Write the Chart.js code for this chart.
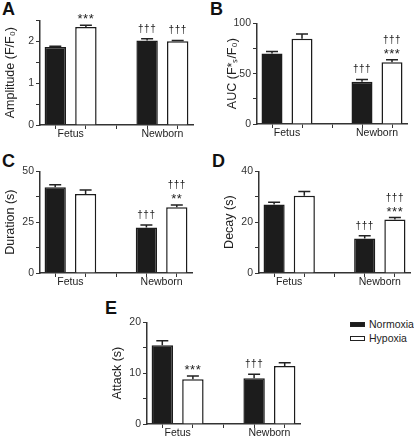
<!DOCTYPE html>
<html>
<head>
<meta charset="utf-8">
<script src="https://cdn.jsdelivr.net/npm/chart.js@4.4.0/dist/chart.umd.min.js"></script>
<style>
  body { margin: 0; background: #fff; }
  #wrap { position: relative; width: 414px; height: 440px; overflow: hidden;
          font-family: "Liberation Sans", Arial, sans-serif; color: #222; }
  canvas { position: absolute; }
  .letter { position: absolute; font-weight: bold; font-size: 18px; line-height: 18px; color: #111; }
  #legend { position: absolute; left: 350px; top: 317px; font-size: 10.5px; line-height: 14px; }
  #legend .item { display: flex; align-items: center; height: 14px; }
  #legend .swatch { display: inline-block; width: 13px; height: 3px; border: 1.5px solid #222; margin-right: 4px; }
</style>
</head>
<body>
<div id="wrap">
  <div class="letter" style="left:2px;top:0px">A</div>
  <div class="letter" style="left:210px;top:0px">B</div>
  <div class="letter" style="left:2px;top:152px">C</div>
  <div class="letter" style="left:212px;top:152px">D</div>
  <div class="letter" style="left:105px;top:299px">E</div>
  <canvas id="chartA"></canvas>
  <canvas id="chartB"></canvas>
  <canvas id="chartC"></canvas>
  <canvas id="chartD"></canvas>
  <canvas id="chartE"></canvas>
  <div id="legend"></div>
</div>
<script>
const groups = ["Fetus", "Newborn"];
const conditions = ["Normoxia", "Hypoxia"];
const conditionColors = ["#1c1c1c", "#ffffff"];

// A: amplitude (F/F0)
const amplitudeNormoxia = [1.86, 2.02];
const amplitudeHypoxia = [2.34, 2.0];
const amplitudeNormoxiaSem = [0.02, 0.04];
const amplitudeHypoxiaSem = [0.04, 0.02];
const amplitudeNormoxiaMarks = [[], ["†††"]];
const amplitudeHypoxiaMarks = [["***"], ["†††"]];

// B: area under curve
const aucNormoxia = [70, 42];
const aucHypoxia = [84.7, 61.3];
const aucNormoxiaSem = [2, 2.3];
const aucHypoxiaSem = [4.6, 2.4];
const aucNormoxiaMarks = [[], ["†††"]];
const aucHypoxiaMarks = [[], ["†††", "***"]];

// C: duration (s)
const durationNormoxia = [42.1, 22.4];
const durationHypoxia = [38.9, 32.3];
const durationNormoxiaSem = [1.3, 1.2];
const durationHypoxiaSem = [1.9, 1.1];
const durationNormoxiaMarks = [[], ["†††"]];
const durationHypoxiaMarks = [[], ["†††", "**"]];

// D: decay (s)
const decayNormoxia = [26.9, 13.6];
const decayHypoxia = [30.4, 21.0];
const decayNormoxiaSem = [0.9, 1.1];
const decayHypoxiaSem = [1.7, 0.8];
const decayNormoxiaMarks = [[], ["†††"]];
const decayHypoxiaMarks = [[], ["†††", "***"]];

// E: attack (s)
const attackNormoxia = [15.5, 9.0];
const attackHypoxia = [8.8, 11.4];
const attackNormoxiaSem = [0.85, 0.8];
const attackHypoxiaSem = [0.65, 0.65];
const attackNormoxiaMarks = [[], ["†††"]];
const attackHypoxiaMarks = [["***"], []];

Chart.defaults.font.family = '"Liberation Sans", Arial, sans-serif';
Chart.defaults.color = "#222";

// 5 slots: Fetus N, Fetus H, gap, Newborn N, Newborn H
const slotCount = groups.length * 3 - 1;
function toSlots(values, cond) {
  const out = new Array(slotCount).fill(null);
  values.forEach((v, g) => { out[g * 3 + cond] = v; });
  return out;
}

const errorBarPlugin = {
  id: "errorBars",
  afterDatasetsDraw(chart) {
    const ctx = chart.ctx;
    const y = chart.scales.y;
    chart.data.datasets.forEach((ds, di) => {
      const meta = chart.getDatasetMeta(di);
      meta.data.forEach((bar, i) => {
        const v = ds.data[i];
        if (v === null) return;
        const top = y.getPixelForValue(v + ds.errors[i]);
        ctx.save();
        ctx.strokeStyle = "#222";
        ctx.lineWidth = 1.5;
        ctx.beginPath();
        ctx.moveTo(bar.x, bar.y);
        ctx.lineTo(bar.x, top);
        ctx.moveTo(bar.x - 6, top);
        ctx.lineTo(bar.x + 6, top);
        ctx.stroke();
        // significance marks, stacked upward from the error bar
        ctx.fillStyle = "#222";
        ctx.textAlign = "center";
        ctx.textBaseline = "alphabetic";
        let cursor = top;
        const marks = ds.marks[i] || [];
        for (let k = marks.length - 1; k >= 0; k--) {
          const m = marks[k];
          if (m[0] === "*") {
            ctx.font = '13px "Liberation Sans", Arial, sans-serif';
            ctx.letterSpacing = "0.5px";
            const base = cursor - 2;
            ctx.fillText(m, bar.x, base);
            cursor = base - 8;
          } else {
            ctx.font = '10px "Liberation Sans", Arial, sans-serif';
            ctx.letterSpacing = "0.5px";
            const base = cursor - 7;
            ctx.fillText(m, bar.x, base);
            cursor = base - 9;
          }
        }
        ctx.restore();
      });
    });
  }
};

const panels = [
  { id: "chartA", left: 0, top: 12, width: 199, height: 134, yWidth: 40,
    title: "Amplitude (F/F\u2080)", max: 2.5, step: 0.5, major: 1,
    normoxia: amplitudeNormoxia, hypoxia: amplitudeHypoxia,
    normoxiaSem: amplitudeNormoxiaSem, hypoxiaSem: amplitudeHypoxiaSem,
    normoxiaMarks: amplitudeNormoxiaMarks, hypoxiaMarks: amplitudeHypoxiaMarks },
  { id: "chartB", left: 222, top: 15, width: 191, height: 130, yWidth: 35,
    title: "AUC (F*\u209B/F\u2080)", max: 100, step: 25, major: 50,
    normoxia: aucNormoxia, hypoxia: aucHypoxia,
    normoxiaSem: aucNormoxiaSem, hypoxiaSem: aucHypoxiaSem,
    normoxiaMarks: aucNormoxiaMarks, hypoxiaMarks: aucHypoxiaMarks },
  { id: "chartC", left: 0, top: 163, width: 198, height: 131, yWidth: 40,
    title: "Duration (s)", max: 50, step: 12.5, major: 25,
    normoxia: durationNormoxia, hypoxia: durationHypoxia,
    normoxiaSem: durationNormoxiaSem, hypoxiaSem: durationHypoxiaSem,
    normoxiaMarks: durationNormoxiaMarks, hypoxiaMarks: durationHypoxiaMarks },
  { id: "chartD", left: 219, top: 163, width: 195, height: 131, yWidth: 40,
    title: "Decay (s)", max: 40, step: 10, major: 20,
    normoxia: decayNormoxia, hypoxia: decayHypoxia,
    normoxiaSem: decayNormoxiaSem, hypoxiaSem: decayHypoxiaSem,
    normoxiaMarks: decayNormoxiaMarks, hypoxiaMarks: decayHypoxiaMarks },
  { id: "chartE", left: 107, top: 314, width: 199, height: 126, yWidth: 40,
    title: "Attack (s)", max: 20, step: 5, major: 10,
    normoxia: attackNormoxia, hypoxia: attackHypoxia,
    normoxiaSem: attackNormoxiaSem, hypoxiaSem: attackHypoxiaSem,
    normoxiaMarks: attackNormoxiaMarks, hypoxiaMarks: attackHypoxiaMarks,
    labelHeight: 13 }
];

const slotLabels = [];
groups.forEach((g, gi) => {
  conditions.forEach((c) => slotLabels.push(g + " " + c));
  if (gi < groups.length - 1) slotLabels.push("");
});

panels.forEach((p) => {
  const canvas = document.getElementById(p.id);
  canvas.width = p.width;
  canvas.height = p.height;
  canvas.style.left = p.left + "px";
  canvas.style.top = p.top + "px";

  const values = [p.normoxia, p.hypoxia];
  const sems = [p.normoxiaSem, p.hypoxiaSem];
  const marks = [p.normoxiaMarks, p.hypoxiaMarks];

  new Chart(canvas, {
    type: "bar",
    data: {
      labels: slotLabels,
      datasets: conditions.map((c, ci) => ({
        label: c,
        data: toSlots(values[ci], ci),
        errors: toSlots(sems[ci], ci),
        marks: toSlots(marks[ci], ci),
        backgroundColor: conditionColors[ci],
        borderColor: "#1c1c1c",
        borderWidth: 1.5,
        grouped: false,
        categoryPercentage: 1,
        barPercentage: 0.7
      }))
    },
    options: {
      responsive: false,
      animation: false,
      layout: { padding: { top: 8, right: p.left + p.width >= 414 ? 4 : 6, left: 0, bottom: 0 } },
      plugins: { legend: { display: false }, tooltip: { enabled: false } },
      scales: {
        x: {
          type: "category",
          offset: true,
          grid: { display: true, drawOnChartArea: false, offset: false, tickLength: 4, color: "#333" },
          border: { color: "#333", width: 1.5 },
          ticks: { display: false },
          afterFit: (s) => { s.height = 3; }
        },
        x2: {
          type: "linear",
          position: "bottom",
          offset: false,
          bounds: "data",
          min: -0.5,
          max: slotCount - 0.5,
          grid: { display: false, drawTicks: false, offset: false },
          border: { display: false },
          afterBuildTicks: (s) => {
            s.ticks = groups.map((g, gi) => ({ value: gi * 3 + 0.5 }));
          },
          ticks: {
            autoSkip: false,
            maxRotation: 0,
            padding: 0,
            font: { size: 10.5 },
            color: "#222",
            callback: (v, i) => groups[i]
          },
          afterFit: (s) => { s.height = p.labelHeight || 18; }
        },
        y: {
          min: 0,
          max: p.max,
          grid: { display: true, drawOnChartArea: false, tickLength: 4, color: "#333" },
          border: { color: "#333", width: 1.5 },
          ticks: {
            stepSize: p.step,
            autoSkip: false,
            padding: 2,
            font: { size: 10.5 },
            color: "#333",
            callback: (v) => (Math.abs(v / p.major - Math.round(v / p.major)) < 1e-6 ? v : "")
          },
          title: {
            display: true,
            text: p.title,
            font: { size: 12.5 },
            color: "#222",
            padding: { top: 3, bottom: 0 }
          },
          afterFit: (s) => { s.width = p.yWidth; }
        }
      }
    },
    plugins: [errorBarPlugin]
  });
});

// legend
const legend = document.getElementById("legend");
conditions.forEach((c, ci) => {
  const item = document.createElement("div");
  item.className = "item";
  const sw = document.createElement("span");
  sw.className = "swatch";
  sw.style.background = conditionColors[ci];
  item.appendChild(sw);
  item.appendChild(document.createTextNode(c));
  legend.appendChild(item);
});
</script>
</body>
</html>
